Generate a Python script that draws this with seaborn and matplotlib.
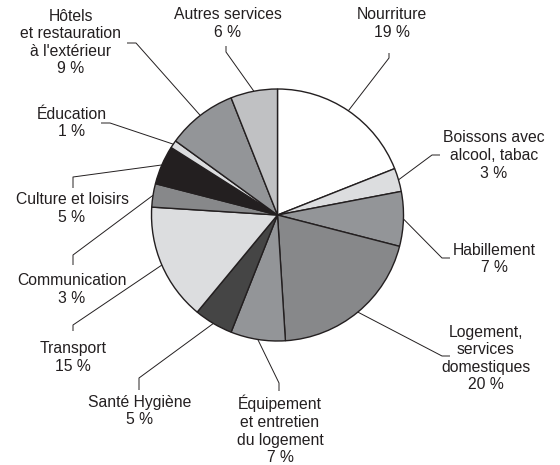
import numpy as np
import seaborn as sns
import matplotlib.pyplot as plt

# budget shares, clockwise from 12 o'clock
categories = [
    "Nourriture",
    "Boissons avec\nalcool, tabac",
    "Habillement",
    "Logement,\nservices\ndomestiques",
    "Équipement\net entretien\ndu logement",
    "Santé Hygiène",
    "Transport",
    "Communication",
    "Culture et loisirs",
    "Éducation",
    "Hôtels\net restauration\nà l'extérieur",
    "Autres services",
]
shares = [19, 3, 7, 20, 7, 5, 15, 3, 5, 1, 9, 6]
shades = [
    "#ffffff", "#dcdddf", "#939598", "#87888a", "#939598", "#454545",
    "#dcdddf", "#87888a", "#231f20", "#dcdddf", "#939598", "#c0c1c3",
]

W, H = 560, 465
INK = "#231f20"

# leader line elbow, leader end, label centre (pixel coords, y down)
elbows = [(389, 58), (432, 155), (442, 258), (442, 356), (279, 383), (139, 378),
          (73, 325), (73, 255), (73, 177), (110, 123), (136, 43), (226, 52)]
ends = [(389, 53), (440, 155), (450, 258), (450, 356), (279, 391), (139, 390),
        (73, 331), (73, 265), (73, 188), (101, 123), (127, 43), (226, 46)]
label_pos = [(392, 23.5), (494, 155.5), (494, 259), (486, 358.5), (280, 430),
             (140, 411), (73, 357.5), (72, 289.5), (72, 208.5), (72, 123),
             (71, 42.5), (228, 23.5)]

sns.set_theme(style="white")
plt.rcParams["font.family"] = ["Liberation Sans", "DejaVu Sans"]

fig = plt.figure(figsize=(W / 100, H / 100), dpi=100)
ax = fig.add_axes([0, 0, 1, 1])

cx, cy, r = 277.5, H - 215, 126
wedges, _ = ax.pie(
    shares,
    colors=shades,
    startangle=90,
    counterclock=False,
    center=(cx, cy),
    radius=r,
    frame=True,
    wedgeprops=dict(edgecolor=INK, linewidth=1.0),
)

for w, name, v, el, en, lp in zip(wedges, categories, shares, elbows, ends, label_pos):
    mid = np.deg2rad((w.theta1 + w.theta2) / 2)
    ax0, ay0 = cx + r * np.cos(mid), cy + r * np.sin(mid)
    ax.plot([ax0, el[0], en[0]], [ay0, H - el[1], H - en[1]],
            color=INK, lw=0.7, solid_capstyle="butt", zorder=3)
    ax.text(lp[0], H - lp[1], f"{name}\n{v} %", ha="center", va="center",
            fontsize=11.3, color=INK, linespacing=1.22)

ax.set_xlim(0, W)
ax.set_ylim(0, H)
ax.set_aspect("equal")
ax.axis("off")

fig.savefig("out.png", dpi=100, facecolor="white")
